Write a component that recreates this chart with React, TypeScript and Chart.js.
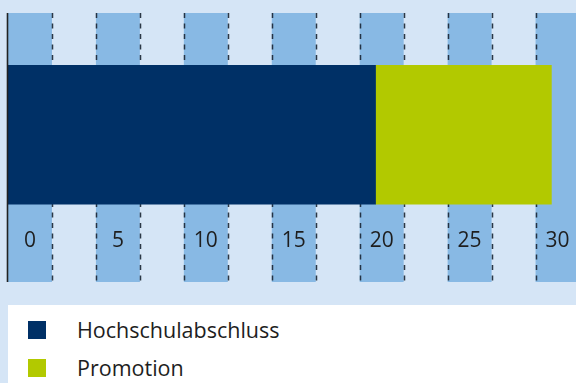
import React, { useEffect, useRef } from "react";
import { Chart, registerables } from "chart.js";

Chart.register(...registerables);

const seriesNames = ["Hochschulabschluss", "Promotion"];
const seriesValues = [20.9, 10];
const seriesColors = ["#003066", "#b2c900"];
const tickValues = [0, 5, 10, 15, 20, 25, 30];
const bandWidth = 2.5;
const axisMax = 32.3;
const rowPosition = 0.552;

const BG = "#d5e5f6";
const BAND = "#88b9e4";
const FONT = "'Open Sans', 'DejaVu Sans', sans-serif";

const decorPlugin = {
  id: "decor",
  beforeDatasetsDraw(chart: any) {
    const { ctx, chartArea } = chart;
    const xs = chart.scales.x;
    const { top, bottom, left, right } = chartArea;
    ctx.save();
    ctx.fillStyle = BG;
    ctx.fillRect(left, top, right - left, bottom - top);
    for (const t of tickValues) {
      const x0 = xs.getPixelForValue(t);
      const x1 = Math.min(xs.getPixelForValue(t + bandWidth), right);
      ctx.fillStyle = BAND;
      ctx.fillRect(x0, top, x1 - x0, bottom - top);
    }
    ctx.strokeStyle = "rgba(25,35,50,0.9)";
    ctx.lineWidth = 1.5;
    ctx.setLineDash([5, 5.5]);
    for (let v = bandWidth; v <= axisMax; v += bandWidth) {
      const x = Math.round(xs.getPixelForValue(v)) + 0.5;
      ctx.beginPath();
      ctx.moveTo(x, top);
      ctx.lineTo(x, bottom);
      ctx.stroke();
    }
    ctx.restore();
  },
  afterDatasetsDraw(chart: any) {
    const { ctx, chartArea } = chart;
    const xs = chart.scales.x;
    const { top, bottom, left } = chartArea;
    ctx.save();
    ctx.fillStyle = "#1e1e1e";
    ctx.font = `21px ${FONT}`;
    ctx.textAlign = "center";
    ctx.textBaseline = "middle";
    for (const t of tickValues) {
      ctx.fillText(String(t), xs.getPixelForValue(t + bandWidth / 2), bottom - 41);
    }
    ctx.strokeStyle = "#222";
    ctx.lineWidth = 1.6;
    ctx.setLineDash([]);
    ctx.beginPath();
    ctx.moveTo(left - 0.5, top);
    ctx.lineTo(left - 0.5, bottom);
    ctx.stroke();
    ctx.restore();
  },
};

export default function App() {
  const ref = useRef<HTMLCanvasElement>(null);

  useEffect(() => {
    if (!ref.current) return;
    const chart = new Chart(ref.current, {
      type: "bar",
      data: {
        datasets: seriesNames.map((name, i) => ({
          label: name,
          data: [{ x: seriesValues[i], y: rowPosition }],
          backgroundColor: seriesColors[i],
          borderWidth: 0,
          barThickness: 139,
        })),
      },
      options: {
        indexAxis: "y",
        animation: false,
        responsive: false,
        maintainAspectRatio: false,
        layout: { padding: { left: 8, top: 13, right: 0, bottom: 18 } },
        plugins: { legend: { display: false }, tooltip: { enabled: false } },
        scales: {
          x: { type: "linear", min: 0, max: axisMax, stacked: true, display: false },
          y: { type: "linear", min: 0, max: 1, stacked: true, display: false },
        },
      } as any,
      plugins: [decorPlugin],
    });
    return () => chart.destroy();
  }, []);

  return (
    <div
      style={{
        position: "fixed",
        left: 0,
        top: 0,
        width: 576,
        height: 383,
        background: BG,
        overflow: "hidden",
        fontFamily: FONT,
      }}
    >
      <canvas
        ref={ref}
        width={576}
        height={300}
        style={{ position: "absolute", left: 0, top: 0, width: 576, height: 300 }}
      />
      <div
        style={{
          position: "absolute",
          left: 8,
          top: 305,
          width: 568,
          height: 78,
          background: "#ffffff",
        }}
      >
        {seriesNames.map((name, i) => (
          <div
            key={name}
            style={{
              position: "absolute",
              left: 20,
              top: 15 + i * 38,
              height: 20,
              display: "flex",
              alignItems: "center",
            }}
          >
            <span
              style={{
                display: "inline-block",
                width: 18,
                height: 18,
                background: seriesColors[i],
              }}
            />
            <span
              style={{
                marginLeft: 31,
                fontSize: 21.5,
                color: "#1e1e1e",
                lineHeight: "20px",
              }}
            >
              {name}
            </span>
          </div>
        ))}
      </div>
    </div>
  );
}
